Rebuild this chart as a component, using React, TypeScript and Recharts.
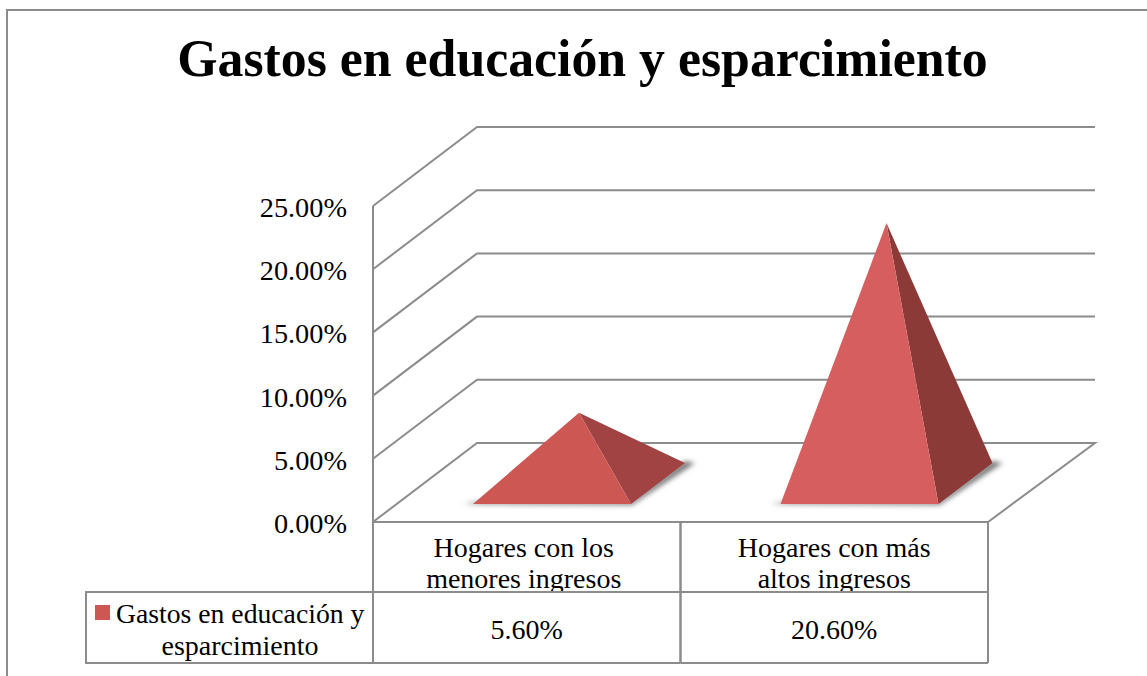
import React from 'react';
import { Bar, BarChart, CartesianGrid, XAxis, YAxis } from 'recharts';

const categories = ['Hogares con los menores ingresos', 'Hogares con más altos ingresos'];
const categoryLines = [
  ['Hogares con los', 'menores ingresos'],
  ['Hogares con más', 'altos ingresos'],
];
const seriesName = 'Gastos en educación y esparcimiento';
const seriesNameLines = ['Gastos en educación y', 'esparcimiento'];
const seriesValues = [5.6, 20.6];
const yTicks = [0, 5, 10, 15, 20, 25];

const chartData = categories.map((category, i) => ({ category, value: seriesValues[i] }));

const FONT = '"Liberation Serif", serif';
const LINE = '#8c8c8c';
const frontFills = ['#cc5753', '#d65e5e'];
const sideFills = ['#a04342', '#8c3a38'];

// depth of the fake 3D box, and where a pyramid sits on its floor
const BACK_DX = 104;
const BACK_DY = 79;
const BACK_RIGHT_DX = 107;
const BASE_DX = 25;
const BASE_DY = 18;
const PYRAMID_DX = 54;
const PYRAMID_DY = 41;

const pct = (v: number) => `${v.toFixed(2)}%`;

const GridLine = (props: any) => {
  const { x1, x2, y1, y, height } = props;
  const isFloor = Math.abs(y1 - (y + height)) < 1;
  const points = [
    [x1, y1],
    [x1 + BACK_DX, y1 - BACK_DY],
    [x2 + BACK_RIGHT_DX, y1 - BACK_DY],
  ];
  if (isFloor) points.push([x2, y1], [x1, y1]);
  return (
    <polyline
      points={points.map((p) => p.join(',')).join(' ')}
      fill="none"
      stroke={LINE}
      strokeWidth={2}
    />
  );
};

const Pyramid = (props: any) => {
  const { x, y, width, height, index } = props;
  const base = y + height - BASE_DY;
  const left = x + BASE_DX;
  const right = left + width;
  const apexX = left + width / 2 + PYRAMID_DX / 2;
  const apexY = base - PYRAMID_DY / 2 - height;
  const backX = right + PYRAMID_DX;
  const backY = base - PYRAMID_DY;
  return (
    <g>
      <polygon
        points={`${left - 10},${base} ${left + 10},${base - 3} ${right},${base - 3} ${backX},${backY - 2} ${backX + 10},${backY} ${right + 1},${base + 1}`}
        fill="#777"
        filter="url(#pyramidShadow)"
      />
      <polygon points={`${right},${base} ${backX},${backY} ${apexX},${apexY}`} fill={sideFills[index]} />
      <polygon points={`${left},${base} ${right},${base} ${apexX},${apexY}`} fill={frontFills[index]} />
    </g>
  );
};

// the data table under the plot is drawn from the category axis ticks
const TableTick = (props: any) => {
  const { x, y, index } = props;
  const half = 153.75;
  const rowY = y + 70;
  const bottomY = y + 141;
  const labelDx = index === 0 ? -3 : 0;
  const textStyle = { fontFamily: FONT, fontSize: 28, fill: '#000' };
  return (
    <g>
      <clipPath id={`labelClip${index}`}>
        <rect x={x - half} y={y} width={half * 2} height={70} />
      </clipPath>
      <g clipPath={`url(#labelClip${index})`}>
        {categoryLines[index].map((line, i) => (
          <text key={line} x={x + labelDx} y={y + 35 + i * 31} textAnchor="middle" {...textStyle}>
            {line}
          </text>
        ))}
      </g>
      <text x={x} y={y + 117} textAnchor="middle" {...textStyle}>
        {pct(seriesValues[index])}
      </text>
      <path
        d={`M${x - half},${y} V${bottomY} M${x + half},${y} V${bottomY} M${x - half},${rowY} H${x + half} M${x - half},${bottomY} H${x + half}`}
        stroke={LINE}
        strokeWidth={2}
        fill="none"
      />
      {index === 0 && (
        <g>
          <path
            d={`M${x - half},${rowY} H86 V${bottomY} H${x - half}`}
            stroke={LINE}
            strokeWidth={2}
            fill="none"
          />
          <rect x={95} y={y + 83} width={15} height={15} fill={frontFills[0]} />
          <text x={116} y={y + 101} {...textStyle} fontSize={27.7}>
            {seriesNameLines[0]}
          </text>
          <text x={240} y={y + 133} textAnchor="middle" {...textStyle}>
            {seriesNameLines[1]}
          </text>
        </g>
      )}
    </g>
  );
};

const YTick = (props: any) => (
  <text
    x={props.x}
    y={props.y + 11}
    textAnchor="end"
    style={{ fontFamily: FONT, fontSize: 28.3, fill: '#000' }}
  >
    {pct(props.payload.value)}
  </text>
);

export default function App() {
  return (
    <div
      style={{
        position: 'absolute',
        left: 0,
        top: 0,
        width: 1147,
        height: 676,
        overflow: 'hidden',
        background: '#fff',
      }}
    >
      <div
        style={{
          position: 'absolute',
          left: 6,
          top: 9,
          width: 1141,
          height: 667,
          borderLeft: `2px solid ${LINE}`,
          borderTop: `2px solid ${LINE}`,
        }}
      />
      <div
        style={{
          position: 'absolute',
          left: 0,
          top: 30,
          width: 1165,
          textAlign: 'center',
          fontFamily: FONT,
          fontWeight: 700,
          fontSize: 51.8,
          lineHeight: '58px',
          color: '#000',
        }}
      >
        Gastos en educación y esparcimiento
      </div>
      <div style={{ position: 'absolute', left: 0, top: 0 }}>
        <BarChart
          width={1147}
          height={676}
          data={chartData}
          margin={{ top: 206, right: 159, bottom: 0, left: 273 }}
          barSize={158}
        >
          <defs>
            <filter id="pyramidShadow" x="-20%" y="-50%" width="140%" height="200%">
              <feGaussianBlur stdDeviation="2.5" />
            </filter>
          </defs>
          <CartesianGrid vertical={false} horizontal={(p: any) => <GridLine {...p} />} />
          <XAxis
            dataKey="category"
            height={154}
            interval={0}
            axisLine={{ stroke: LINE, strokeWidth: 2 }}
            tickLine={false}
            tick={(p: any) => <TableTick {...p} y={522} />}
          />
          <YAxis
            width={100}
            domain={[0, 25]}
            ticks={yTicks}
            tickLine={false}
            tickMargin={26}
            axisLine={{ stroke: LINE, strokeWidth: 2 }}
            tick={(p: any) => <YTick {...p} x={347} />}
          />
          <Bar dataKey="value" name={seriesName} shape={<Pyramid />} isAnimationActive={false} />
        </BarChart>
      </div>
    </div>
  );
}
